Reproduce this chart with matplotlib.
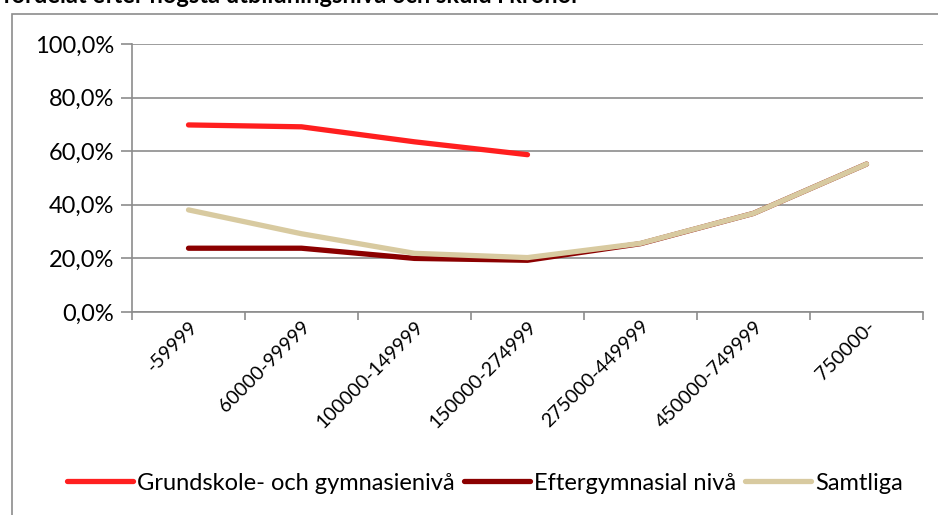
import matplotlib.pyplot as plt
from matplotlib.patches import Rectangle
from matplotlib.ticker import FuncFormatter

plt.rcParams['font.family'] = ['Lato', 'DejaVu Sans']

# skuldintervall i kronor
categories = ['-59999', '60000-99999', '100000-149999', '150000-274999',
              '275000-449999', '450000-749999', '750000-']
grund = [69.8, 69.1, 63.5, 58.7, None, None, None]
efter = [23.8, 23.8, 20.0, 19.3, 25.5, 36.8, 55.2]
samtliga = [38.1, 29.2, 21.9, 20.3, 25.6, 36.8, 55.2]
labels = ['Grundskole- och gymnasienivå', 'Eftergymnasial nivå', 'Samtliga']
title = 'fördelat efter högsta utbildningsnivå och skuld i kronor'

W, H = 938, 515
fig = plt.figure(figsize=(W / 100, H / 100), dpi=100)
ax = fig.add_axes([132 / W, 1 - 312 / H, 791 / W, 268 / H])

# chart frame, cut off on the right and bottom like the source
fig.patches.append(Rectangle((12 / W, -0.1), 1.2, 1.1 - 14 / H,
                             transform=fig.transFigure, fill=False,
                             edgecolor='#8c8c8c', linewidth=1.2))
fig.text(3 / W, 1 - 3 / H, title, fontsize=17, fontweight='bold', va='baseline')

x = list(range(len(categories)))
xs = [i for i, v in zip(x, grund) if v is not None]
ys = [v for v in grund if v is not None]
kw = dict(linewidth=3.8, solid_capstyle='round', solid_joinstyle='round')
ax.plot(xs, ys, color='#ff1f1f', label=labels[0], **kw)
ax.plot(x, efter, color='#8b0000', label=labels[1], **kw)
ax.plot(x, samtliga, color='#d8caa0', label=labels[2], **kw)

ax.set_xlim(-0.5, len(categories) - 0.5)
ax.set_ylim(0, 100)
ax.set_yticks(range(0, 101, 20))
ax.yaxis.set_major_formatter(FuncFormatter(lambda v, p: f'{v:.1f}%'.replace('.', ',')))
ax.grid(axis='y', color='#8c8c8c', linewidth=1.2)
ax.set_axisbelow(True)

ax.set_xticks([i - 0.5 for i in range(len(categories) + 1)])
ax.set_xticklabels([])
ax.set_xticks(x, minor=True)
ax.set_xticklabels(categories, minor=True, rotation=45, ha='right',
                   rotation_mode='anchor', fontsize=14)
ax.tick_params(axis='x', which='minor', length=0, pad=4)
ax.tick_params(axis='x', which='major', length=6, color='#8c8c8c', width=1.2)
ax.tick_params(axis='y', length=8, color='#8c8c8c', width=1.2, labelsize=17, pad=5)
for s in ['top', 'right']:
    ax.spines[s].set_visible(False)
for s in ['left', 'bottom']:
    ax.spines[s].set_color('#8c8c8c')
    ax.spines[s].set_linewidth(1.2)

fig.legend(loc='center', bbox_to_anchor=(485 / W, 1 - 483 / H), ncol=3,
           frameon=False, fontsize=17, handlelength=2.8, handletextpad=0.15,
           columnspacing=0.4)

fig.savefig('out.png', dpi=100)
